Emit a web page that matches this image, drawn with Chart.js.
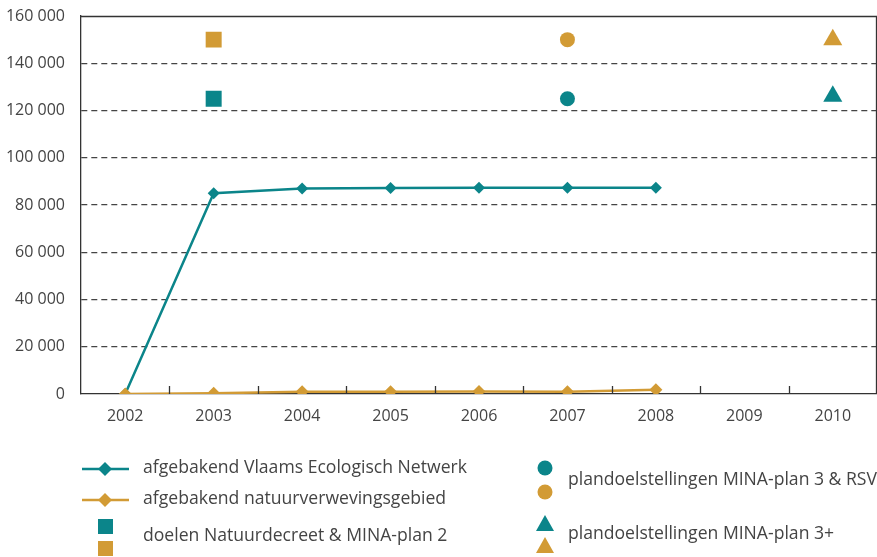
<!DOCTYPE html>
<html>
<head>
<meta charset="utf-8">
<script src="https://cdn.jsdelivr.net/npm/chart.js@4/dist/chart.umd.min.js"></script>
<style>
html,body{margin:0;padding:0;background:#fff;}
#wrap{position:relative;width:877px;height:557px;}
</style>
</head>
<body>
<div id="wrap"><canvas id="c" width="877" height="557"></canvas></div>
<script>
const years = ['2002','2003','2004','2005','2006','2007','2008','2009','2010'];
const yTicks = [0,20000,40000,60000,80000,100000,120000,140000,160000];
const vlaamsEN = [0, 85000, 87000, 87200, 87300, 87300, 87300, null, null];
const natuurverweving = [0, 300, 1000, 1000, 1100, 1000, 1800, null, null];
const doelenVEN = [null, 125000, null, null, null, null, null, null, null];
const doelenNVWG = [null, 150000, null, null, null, null, null, null, null];
const mina3VEN = [null, null, null, null, null, 125000, null, null, null];
const mina3NVWG = [null, null, null, null, null, 150000, null, null, null];
const mina3plusVEN = [null, null, null, null, null, null, null, null, 126000];
const mina3plusNVWG = [null, null, null, null, null, null, null, null, 150000];
const legendLabels = [
  'afgebakend Vlaams Ecologisch Netwerk',
  'afgebakend natuurverwevingsgebied',
  'doelen Natuurdecreet & MINA-plan 2',
  'plandoelstellingen MINA-plan 3 & RSV',
  'plandoelstellingen MINA-plan 3+'
];

const TEAL = '#0b858a';
const ORANGE = '#d29b35';
const TXT = '#444444';
const FONT = '"Open Sans", "Noto Sans", sans-serif';

function fmt(v){ return String(v).replace(/\B(?=(\d{3})+(?!\d))/g, ' '); }

function diamond(ctx,x,y,r,color){
  ctx.beginPath();ctx.moveTo(x,y-r);ctx.lineTo(x+r,y);ctx.lineTo(x,y+r);ctx.lineTo(x-r,y);ctx.closePath();
  ctx.fillStyle=color;ctx.fill();
}
function tri(ctx,x,y,w,h,color){
  ctx.beginPath();ctx.moveTo(x,y-h/2);ctx.lineTo(x+w/2,y+h/2);ctx.lineTo(x-w/2,y+h/2);ctx.closePath();
  ctx.fillStyle=color;ctx.fill();
}

const framePlugin = {
  id:'frame',
  afterDraw(chart){
    const ctx = chart.ctx, a = chart.chartArea, xs = chart.scales.x;
    ctx.save();
    ctx.strokeStyle='#333';ctx.lineWidth=1.3;
    ctx.beginPath();
    ctx.moveTo(a.left, a.top+0.5);ctx.lineTo(a.right-0.5,a.top+0.5);ctx.lineTo(a.right-0.5,a.bottom);
    ctx.stroke();
    for(let i=0;i<years.length-1;i++){
      const x = Math.round((xs.getPixelForValue(i)+xs.getPixelForValue(i+1))/2)+0.5;
      ctx.beginPath();ctx.moveTo(x,a.bottom);ctx.lineTo(x,a.bottom-8);ctx.stroke();
    }
    ctx.font = '17.6px '+FONT;
    ctx.textBaseline='middle';
    ctx.textAlign='left';
    ctx.strokeStyle=TEAL;ctx.lineWidth=2.5;
    ctx.beginPath();ctx.moveTo(82,469);ctx.lineTo(129,469);ctx.stroke();
    diamond(ctx,105,469,7,TEAL);
    ctx.fillStyle=TXT;ctx.fillText(legendLabels[0],143,468);
    ctx.strokeStyle=ORANGE;
    ctx.beginPath();ctx.moveTo(82,500);ctx.lineTo(129,500);ctx.stroke();
    diamond(ctx,105,500,7,ORANGE);
    ctx.fillStyle=TXT;ctx.fillText(legendLabels[1],143,499);
    ctx.fillStyle=TEAL;ctx.fillRect(98,519,15,15);
    ctx.fillStyle=ORANGE;ctx.fillRect(98,541,15,15);
    ctx.fillStyle=TXT;ctx.fillText(legendLabels[2],143,536);
    ctx.fillStyle=TEAL;ctx.beginPath();ctx.arc(545,468,7.5,0,Math.PI*2);ctx.fill();
    ctx.fillStyle=ORANGE;ctx.beginPath();ctx.arc(545,492,7.5,0,Math.PI*2);ctx.fill();
    ctx.fillStyle=TXT;ctx.fillText(legendLabels[3],568,480);
    tri(ctx,545,523,18,16,TEAL);
    tri(ctx,545,545,18,16,ORANGE);
    ctx.fillStyle=TXT;ctx.fillText(legendLabels[4],568,534);
    ctx.restore();
  }
};

const sq = {pointStyle:'rect', pointRadius:11.3, pointHoverRadius:11.3, showLine:false};
const ci = {pointStyle:'circle', pointRadius:7.5, pointHoverRadius:7.5, showLine:false};
const tr = {pointStyle:'triangle', pointRadius:11, pointHoverRadius:11, showLine:false};

const chart = new Chart(document.getElementById('c'), {
  type:'line',
  data:{
    labels: years,
    datasets:[
      {label:legendLabels[1], data:natuurverweving, borderColor:ORANGE, backgroundColor:ORANGE, borderWidth:2.5, pointStyle:'rectRot', pointRadius:6.5, pointBorderWidth:0, order:0},
      {label:legendLabels[0], data:vlaamsEN, borderColor:TEAL, backgroundColor:TEAL, borderWidth:2.5, pointStyle:'rectRot', pointRadius:6, pointBorderWidth:0, order:1},
      Object.assign({label:legendLabels[2]+' (VEN)', data:doelenVEN, backgroundColor:TEAL, borderColor:TEAL, pointBorderWidth:0, order:2}, sq),
      Object.assign({label:legendLabels[2]+' (NVWG)', data:doelenNVWG, backgroundColor:ORANGE, borderColor:ORANGE, pointBorderWidth:0, order:2}, sq),
      Object.assign({label:legendLabels[3]+' (VEN)', data:mina3VEN, backgroundColor:TEAL, borderColor:TEAL, pointBorderWidth:0, order:2}, ci),
      Object.assign({label:legendLabels[3]+' (NVWG)', data:mina3NVWG, backgroundColor:ORANGE, borderColor:ORANGE, pointBorderWidth:0, order:2}, ci),
      Object.assign({label:legendLabels[4]+' (VEN)', data:mina3plusVEN, backgroundColor:TEAL, borderColor:TEAL, pointBorderWidth:0, order:2}, tr),
      Object.assign({label:legendLabels[4]+' (NVWG)', data:mina3plusNVWG, backgroundColor:ORANGE, borderColor:ORANGE, pointBorderWidth:0, order:2}, tr)
    ]
  },
  options:{
    responsive:false,
    animation:false,
    layout:{autoPadding:false, padding:{top:16, right:0, left:0, bottom:0}},
    plugins:{legend:{display:false}, tooltip:{enabled:false}},
    scales:{
      x:{
        offset:true,
        grid:{display:false, drawTicks:false},
        border:{display:true, color:'#333', width:1.3},
        ticks:{color:TXT, font:{family:FONT, size:16}, padding:13, maxRotation:0},
        afterFit(s){ s.height = 163; s.paddingLeft = 0; s.paddingRight = 0; }
      },
      y:{
        min:0, max:160000,
        afterBuildTicks(s){ s.ticks = yTicks.map(v=>({value:v})); },
        grid:{
          drawTicks:false,
          color:(c)=> (c.tick && (c.tick.value===0 || c.tick.value===160000)) ? 'rgba(0,0,0,0)' : '#444',
          lineWidth:1.2
        },
        border:{display:true, color:'#333', width:1.3, dash:[6,4]},
        ticks:{color:TXT, font:{family:FONT, size:16}, padding:16, callback:(v)=>fmt(v)},
        afterFit(s){ s.width = 81; s.paddingTop = 0; s.paddingBottom = 0; }
      }
    }
  },
  plugins:[framePlugin]
});

// nudge layout padding so the plot frame lands where the reference has it
const target = {top:16, right:877, bottom:394};
for (let k=0;k<3;k++){
  const a = chart.chartArea, p = chart.options.layout.padding;
  p.top += target.top - a.top;
  p.right += a.right - target.right;
  p.bottom += a.bottom - target.bottom;
  chart.update('none');
}
</script>
</body>
</html>
